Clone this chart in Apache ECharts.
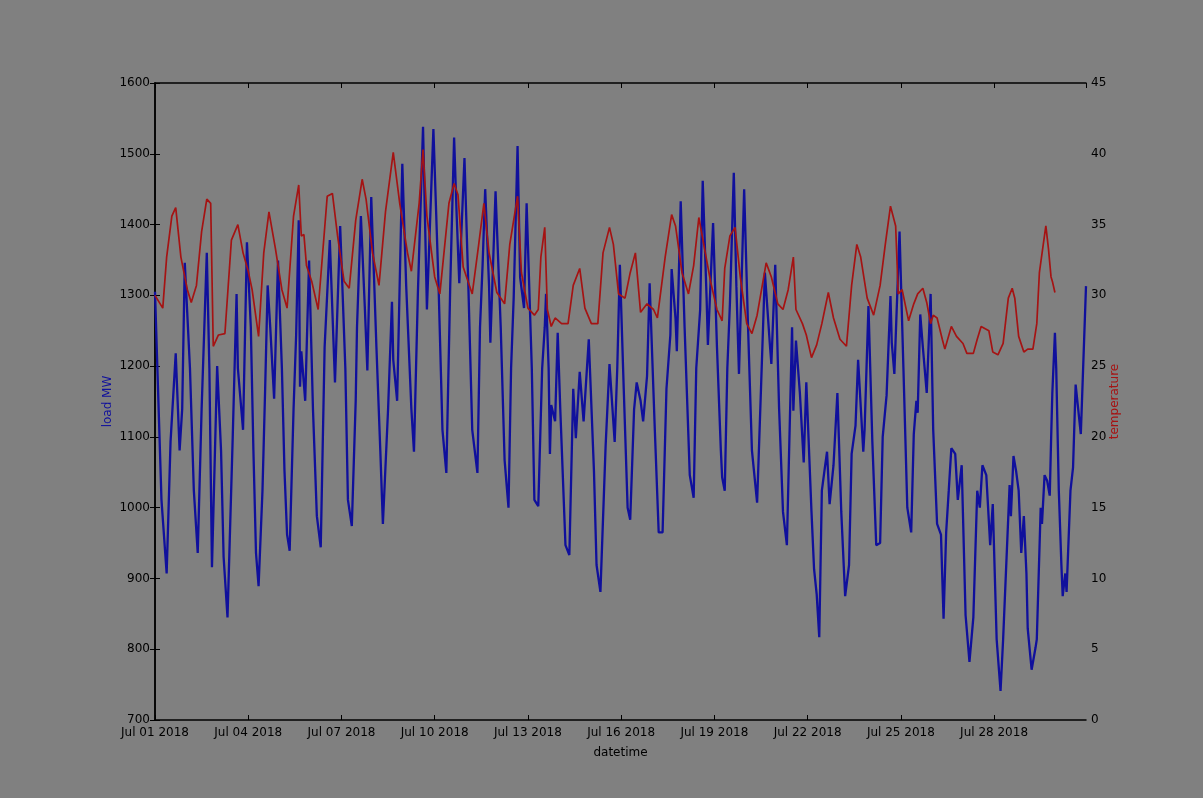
<!DOCTYPE html>
<html>
<head>
<meta charset="utf-8">
<script src="https://cdn.jsdelivr.net/npm/echarts@6/dist/echarts.min.js"></script>
<style>
html,body{margin:0;padding:0;background:#808080;}
#chart{width:1203px;height:798px;}
</style>
</head>
<body>
<div id="chart"></div>
<script>
// x values are hours since 2018-07-01 00:00
const X_TICK_LABELS = ['Jul 01 2018','Jul 04 2018','Jul 07 2018','Jul 10 2018','Jul 13 2018','Jul 16 2018','Jul 19 2018','Jul 22 2018','Jul 25 2018','Jul 28 2018'];

const LOAD = [
[0,1305],[5,1011],[9,907],[12,1093],[16,1218],[19,1081],[21,1139],[23,1346],[27,1197],[30,1024],[33,936],[36,1139],[40,1360],[42,1197],[44,916],[48,1200],[51,1081],[53,930],[56,845],[60,1098],[63,1302],[64,1197],[68,1110],[71,1375],
[74,1255],[76,1081],[78,936],[80,889],[83,1024],[85,1163],[87,1314],[89,1255],[92,1154],[95,1349],[98,1197],[100,1052],[102,962],[104,939],[107,1139],[109,1244],[111,1406],[112,1171],[113,1221],[116,1151],[119,1349],
[122,1139],[125,988],[128,944],[131,1227],[135,1378],[139,1177],[143,1398],[147,1197],[149,1011],[152,974],[155,1151],[156,1255],[159,1412],[162,1285],[164,1194],[167,1439],[171,1227],[174,1081],[176,977],[180,1139],
[183,1291],[184,1209],[187,1151],[191,1486],[194,1313],[198,1139],[200,1079],[203,1302],[207,1538],[210,1280],[215,1535],[219,1313],[222,1110],[225,1049],[228,1313],[231,1523],[233,1412],[235,1317],[239,1494],
[242,1313],[245,1110],[249,1049],[251,1255],[253,1343],[255,1450],[258,1313],[259,1233],[263,1447],[267,1255],[270,1067],[273,1000],[275,1197],[277,1296],[280,1511],[282,1325],[285,1282],[287,1430],[291,1197],
[293,1011],[296,1002],[299,1197],[301,1255],[302,1302],[304,1197],[305,1076],[306,1145],[309,1122],[311,1247],[313,1139],[317,947],[320,933],[323,1168],[325,1098],[328,1192],[331,1122],[335,1238],[339,1052],
[341,919],[344,881],[348,1087],[351,1203],[355,1093],[357,1197],[359,1343],[362,1168],[365,1000],[367,983],[370,1139],[372,1177],[375,1151],[377,1122],[380,1186],[382,1317],[386,1110],[389,965],[392,965],
[395,1168],[398,1244],[399,1337],[402,1267],[403,1221],[406,1433],[409,1255],[413,1046],[416,1014],[418,1197],[421,1279],[423,1462],[426,1296],[427,1230],[431,1402],[434,1227],[437,1081],[438,1043],[440,1024],
[442,1197],[444,1288],[447,1473],[449,1313],[451,1189],[455,1450],[458,1255],[461,1081],[465,1007],[468,1168],[471,1332],[475,1227],[476,1203],[479,1343],[482,1139],[485,994],[488,947],[492,1255],[493,1137],
[495,1236],[498,1163],[501,1064],[503,1177],[507,994],[509,913],[511,878],[513,817],[515,1024],[517,1052],[519,1079],[521,1005],[524,1060],[527,1162],[530,994],[533,875],[536,919],[538,1076],[541,1116],[543,1209],
[547,1079],[548,1110],[551,1285],[554,1093],[557,947],[560,950],[562,1100],[565,1159],[568,1299],[569,1233],[571,1189],[575,1390],[578,1197],[581,1000],[584,965],[586,1104],[588,1151],[589,1134],[591,1273],
[593,1227],[596,1162],[599,1302],[601,1110],[604,977],[607,962],[609,843],[611,965],[613,1024],[615,1084],[618,1076],[620,1011],[623,1060],[626,848],[629,782],[632,845],[635,1024],[637,1000],[639,1060],[642,1046],
[645,947],[647,1005],[650,814],[653,741],[655,814],[659,988],[660,1032],[661,988],[663,1073],[665,1052],[667,1024],[669,936],[671,988],[673,907],[674,829],[677,771],[680,802],[681,814],[684,1000],[685,977],
[687,1046],[689,1038],[691,1017],[692,1093],[693,1162],[695,1247],[696,1197],[698,1024],[700,919],[701,875],[703,907],[704,881],[707,1024],[709,1057],[711,1174],[713,1139],[715,1104],[716,1156],[719,1313]
];

const TEMP = [
[0,30.0],[6,29.1],[9,32.7],[13,35.6],[16,36.2],[20,32.7],[25,30.4],[28,29.5],[32,30.7],[36,34.5],[40,36.8],[43,36.5],[45,26.4],[49,27.2],[54,27.3],[59,33.9],[64,35.0],[68,33.0],[72,31.7],[75,30.4],[80,27.1],
[84,33.0],[88,35.9],[93,33.3],[98,30.4],[102,29.1],[107,35.6],[111,37.8],[113,34.2],[115,34.3],[117,32.1],[121,31.0],[126,29.0],[133,37.0],[137,37.2],[141,34.2],[146,31.0],[150,30.5],[155,35.3],[160,38.2],
[163,36.8],[168,33.0],[173,30.7],[178,35.9],[184,40.1],[189,36.5],[195,33.0],[198,31.7],[204,36.5],[207,40.3],[210,35.6],[216,31.3],[220,30.1],[227,36.5],[231,37.9],[234,37.1],[238,32.0],[245,30.1],[250,33.6],
[254,36.5],[258,33.0],[264,30.2],[270,29.4],[274,33.6],[280,37.0],[283,31.6],[288,29.1],[293,28.6],[296,29.0],[298,32.7],[301,34.8],[303,29.0],[306,27.8],[309,28.4],[314,28.0],[319,28.0],[323,30.7],[328,31.9],
[332,29.1],[337,28.0],[342,28.0],[346,33.0],[351,34.8],[354,33.6],[358,30.1],[363,29.8],[367,31.6],[371,33.0],[375,28.8],[380,29.4],[385,29.0],[388,28.4],[394,32.7],[399,35.7],[402,34.9],[407,31.6],[412,30.1],
[416,32.1],[420,35.5],[425,33.0],[429,31.0],[434,29.0],[438,28.2],[440,31.9],[444,34.2],[448,34.8],[452,31.3],[457,28.0],[461,27.3],[465,28.6],[469,30.7],[472,32.3],[476,31.3],[481,29.4],[485,29.0],[489,30.4],
[493,32.7],[495,29.0],[500,28.0],[503,27.2],[507,25.6],[511,26.5],[515,28.0],[520,30.2],[524,28.4],[529,26.9],[534,26.4],[538,30.7],[542,33.6],[545,32.7],[550,29.8],[555,28.6],[560,30.7],[564,33.6],[568,36.3],
[572,34.9],[574,30.1],[577,30.4],[582,28.2],[586,29.4],[589,30.1],[593,30.5],[596,29.5],[599,28.0],[601,28.6],[604,28.4],[608,26.9],[610,26.2],[615,27.8],[619,27.1],[624,26.6],[627,25.9],[632,25.9],[635,26.9],
[638,27.8],[644,27.5],[647,26.0],[651,25.8],[655,26.6],[659,29.8],[662,30.5],[664,29.8],[667,27.1],[671,26.0],[674,26.2],[678,26.2],[681,28.0],[683,31.6],[686,33.6],[688,34.9],[690,33.3],[692,31.3],[693,31.0],[695,30.2]
];

const X_MAX = 719, X_STEP = 72;
const LOAD_MIN = 700, LOAD_MAX = 1600, LOAD_STEP = 100;
const TEMP_MIN = 0, TEMP_MAX = 45, TEMP_STEP = 5;

const BLUE = '#10109c';
const RED = '#a51313';
const FONT = 'DejaVu Sans';

const chart = echarts.init(document.getElementById('chart'), null, {renderer: 'canvas'});
const axisLine = {show: true, lineStyle: {color: '#000', width: 1.5}};
const axisTick = {show: true, inside: true, length: 5, lineStyle: {color: '#000', width: 1}};
const labelStyle = {color: '#000', fontFamily: FONT, fontSize: 12};
const plain = v => String(v);

chart.setOption({
  backgroundColor: '#808080',
  animation: false,
  grid: {left: 155, right: 117, top: 83, bottom: 78, show: false},
  xAxis: [{
    type: 'value', min: 0, max: X_MAX, interval: X_STEP, position: 'bottom',
    axisLine, axisTick,
    axisLabel: Object.assign({margin: 7, showMaxLabel: false,
      formatter: v => (v % X_STEP === 0 ? (X_TICK_LABELS[v / X_STEP] || '') : '')}, labelStyle),
    splitLine: {show: false},
    name: 'datetime', nameLocation: 'middle', nameGap: 27, nameMoveOverlap: false,
    nameTextStyle: {color: '#000', fontFamily: FONT, fontSize: 12}
  }, {
    type: 'value', min: 0, max: X_MAX, interval: X_STEP, position: 'top',
    axisLine, axisTick, axisLabel: {show: false}, splitLine: {show: false}
  }],
  yAxis: [{
    type: 'value', min: LOAD_MIN, max: LOAD_MAX, interval: LOAD_STEP, position: 'left',
    axisLine, axisTick,
    axisLabel: Object.assign({margin: 5, formatter: plain}, labelStyle),
    splitLine: {show: false},
    name: 'load MW', nameLocation: 'middle', nameGap: 41, nameMoveOverlap: false,
    nameTextStyle: {color: BLUE, fontFamily: FONT, fontSize: 12}
  }, {
    type: 'value', min: TEMP_MIN, max: TEMP_MAX, interval: TEMP_STEP, position: 'right',
    axisLine, axisTick,
    axisLabel: Object.assign({margin: 5, formatter: plain}, labelStyle),
    splitLine: {show: false},
    name: 'temperature', nameLocation: 'middle', nameGap: 23, nameMoveOverlap: false,
    nameTextStyle: {color: RED, fontFamily: FONT, fontSize: 12}
  }],
  series: [{
    type: 'line', name: 'load', xAxisIndex: 0, yAxisIndex: 0, data: LOAD,
    showSymbol: false, symbol: 'none', smooth: false,
    lineStyle: {color: BLUE, width: 2.3}, z: 2
  }, {
    type: 'line', name: 'temperature', xAxisIndex: 0, yAxisIndex: 1, data: TEMP,
    showSymbol: false, symbol: 'none', smooth: false,
    lineStyle: {color: RED, width: 1.7}, z: 3
  }]
});
</script>
</body>
</html>
